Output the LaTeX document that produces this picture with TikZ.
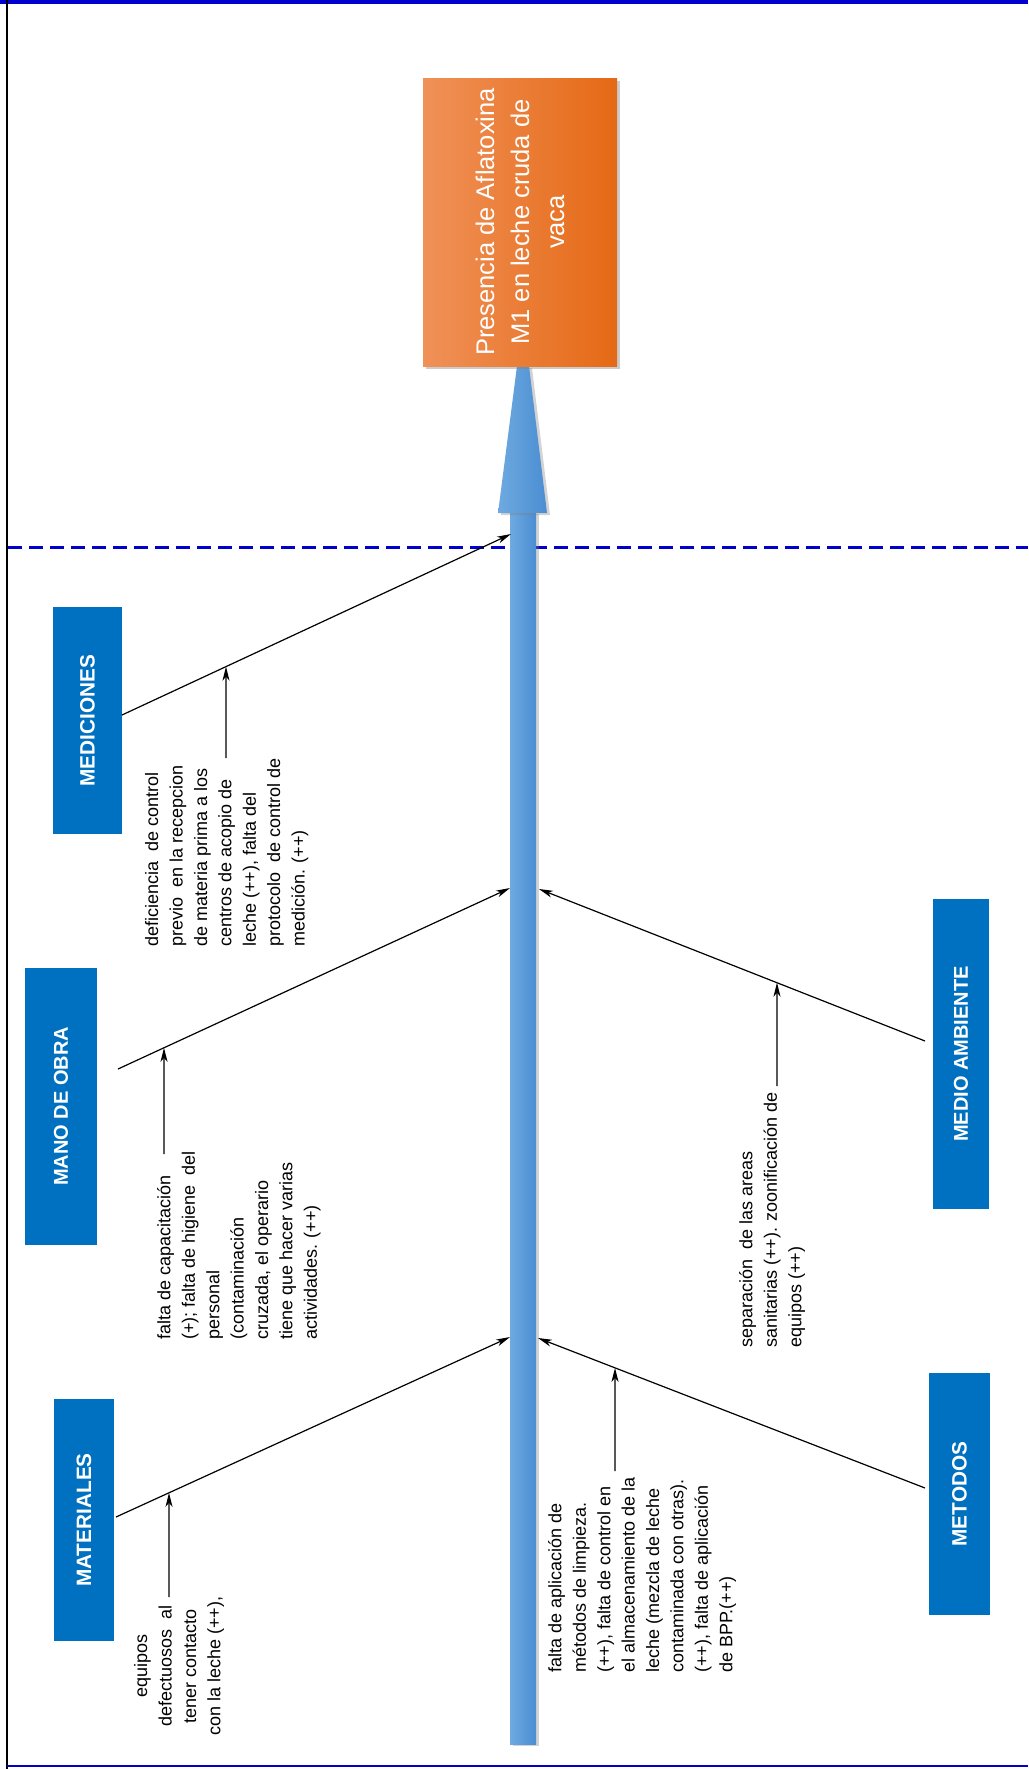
\documentclass[tikz,border=0pt]{standalone}
\usepackage{fontspec}
\setmainfont{Liberation Sans}
\usetikzlibrary{arrows.meta,shadows,calc}
\definecolor{boxblue}{HTML}{0070C0}
\definecolor{frameblue}{HTML}{0000CC}
\definecolor{spineL}{HTML}{6EAAE0}
\definecolor{spineR}{HTML}{4A8DD2}
\definecolor{orL}{HTML}{F09158}
\definecolor{orR}{HTML}{E56915}
\begin{document}
\begin{tikzpicture}[x=1pt,y=-1pt,
  catbox/.style={fill=boxblue, text=white, inner sep=0pt, font=\bfseries\fontsize{20.8}{24}\selectfont},
  bone/.style={black, line width=1.2pt, -{Stealth[length=14pt,width=7pt,inset=4pt]}},
  subarrow/.style={black, line width=1.2pt, -{Stealth[length=14pt,width=7pt,inset=4pt]}},
  note/.style={rotate=90, anchor=north west, inner sep=0pt, align=left, font=\fontsize{18}{24.4}\selectfont}
]
\useasboundingbox (0,0) rectangle (1028,1769);
% frame
\draw[frameblue, line width=3pt, dash pattern=on 14pt off 7pt] (8,547) -- (1028,547);
\draw[frameblue, line width=4.5pt] (0,2) -- (1028,2);
\draw[black, line width=2pt] (7,0) -- (7,1769);
\draw[frameblue, line width=2.5pt] (7,1766) -- (1028,1766);
% spine
\path[drop shadow={shadow xshift=3pt,shadow yshift=-2pt,opacity=.35}, left color=spineL, right color=spineR]
  (510,512) rectangle (536,1744);
\path[drop shadow={shadow xshift=3pt,shadow yshift=-2pt,opacity=.35}, left color=spineL, right color=spineR]
  (498,513) -- (547,513) -- (529,366) -- (517,366) -- cycle;
% effect box
\node[drop shadow={shadow xshift=3pt,shadow yshift=-3pt,opacity=.4}, left color=orL, right color=orR,
      minimum width=194pt, minimum height=288pt, inner sep=0pt, text=white] (eff) at (520,222)
  {\rotatebox{90}{\begin{minipage}{280pt}\centering\fontsize{25.5}{35}\selectfont
   Presencia de Aflatoxina\\ M1 en leche cruda de\\ vaca\end{minipage}}};
% category boxes
\node[catbox, minimum width=69pt, minimum height=227pt] (med) at (87.5,720.5) {\rotatebox{90}{MEDICIONES}};
\node[catbox, minimum width=72pt, minimum height=277pt, font=\bfseries\fontsize{20}{24}\selectfont] (mano) at (61,1106.5) {\rotatebox{90}{MANO DE OBRA}};
\node[catbox, minimum width=60pt, minimum height=242pt] (mat) at (84,1520) {\rotatebox{90}{MATERIALES}};
\node[catbox, minimum width=56pt, minimum height=310pt, font=\bfseries\fontsize{20}{24}\selectfont] (amb) at (961,1054) {\rotatebox{90}{MEDIO AMBIENTE}};
\node[catbox, minimum width=61pt, minimum height=242pt] (met) at (959.5,1494) {\rotatebox{90}{METODOS}};
% bone coordinates
\coordinate (b1s) at (122,715);  \coordinate (b1e) at (511,534);
\coordinate (b2s) at (118,1069); \coordinate (b2e) at (510,888);
\coordinate (b3s) at (116,1517); \coordinate (b3e) at (510,1337);
\coordinate (b4s) at (925,1041); \coordinate (b4e) at (539,889);
\coordinate (b5s) at (925,1488); \coordinate (b5e) at (538,1338);
\draw[bone] (b1s) -- (b1e);
\draw[bone] (b2s) -- (b2e);
\draw[bone] (b3s) -- (b3e);
\draw[bone] (b4s) -- (b4e);
\draw[bone] (b5s) -- (b5e);
% sub arrows
\coordinate (s1b) at (226,758);  \coordinate (s1x) at (226,0);
\coordinate (s2b) at (164,1154); \coordinate (s2x) at (164,0);
\coordinate (s3b) at (169,1597); \coordinate (s3x) at (169,0);
\coordinate (s4b) at (777,1086); \coordinate (s4x) at (777,0);
\coordinate (s5b) at (615,1471); \coordinate (s5x) at (615,0);
\coordinate (s1t) at (intersection of b1s--b1e and s1b--s1x);
\coordinate (s2t) at (intersection of b2s--b2e and s2b--s2x);
\coordinate (s3t) at (intersection of b3s--b3e and s3b--s3x);
\coordinate (s4t) at (intersection of b4s--b4e and s4b--s4x);
\coordinate (s5t) at (intersection of b5s--b5e and s5b--s5x);
\draw[subarrow] (s1b) -- (s1t);
\draw[subarrow] (s2b) -- (s2t);
\draw[subarrow] (s3b) -- (s3t);
\draw[subarrow] (s4b) -- (s4t);
\draw[subarrow] (s5b) -- (s5t);
% notes
\node[note] (n1) at (145,947) {deficiencia\ \ de control\\ previo\ \ en la recepcion\\ de materia prima a los\\ centros de acopio de\\ leche (++), falta del\\ protocolo\ \ de control de\\ medición. (++)};
\node[note] (n2) at (157,1340) {falta de capacitación\\ (+); falta de higiene\ \ del\\ personal\\ (contaminación\\ cruzada, el operario\\ tiene que hacer varias\\ actividades. (++)};
\node[note, anchor=north, align=center] (n3) at (134,1666) {equipos\\ defectuosos\ \ al\\ tener contacto\\ con la leche (++),};
\node[note] (n4) at (739,1348) {separación\ \ de las areas\\ sanitarias (++). zoonificación de\\ equipos (++)};
\node[note] (n5) at (548,1673) {falta de aplicación de\\ métodos de limpieza.\\ (++), falta de control en\\ el almacenamiento de la\\ leche (mezcla de leche\\ contaminada con otras).\\ (++), falta de aplicación\\ de BPP.(++)};
\end{tikzpicture}
\end{document}
